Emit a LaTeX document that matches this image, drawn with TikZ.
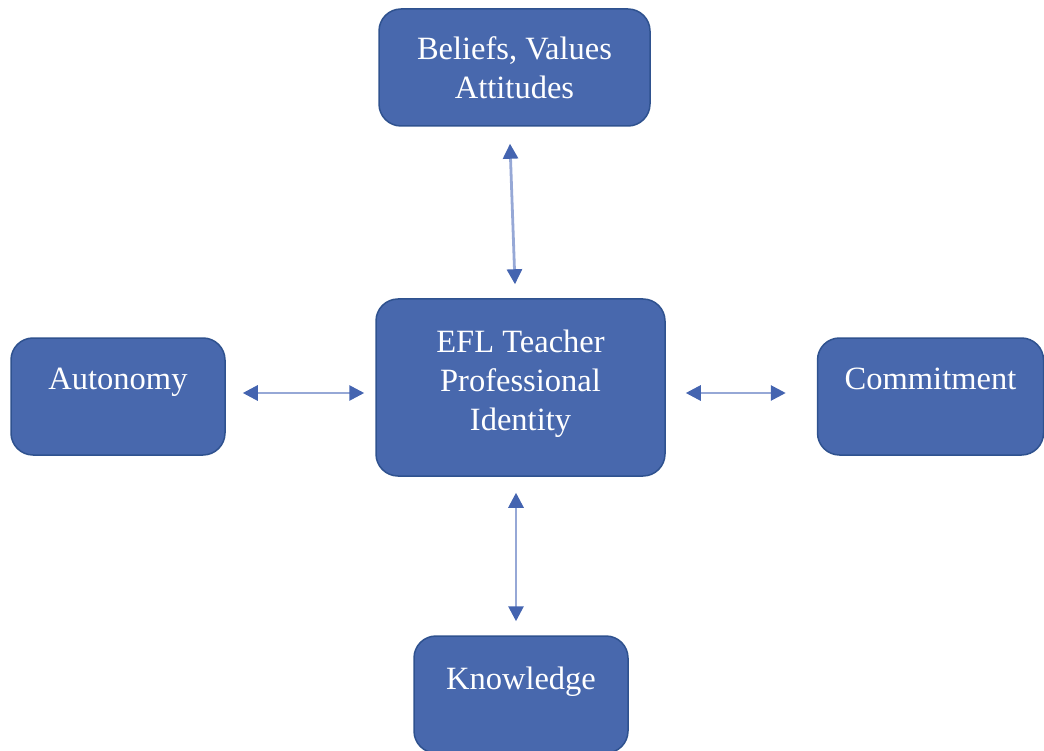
\documentclass[tikz,border=0pt]{standalone}
\usepackage{fontspec}
\setmainfont{Liberation Serif}
\usetikzlibrary{arrows.meta}
\definecolor{boxFill}{RGB}{72,104,173}
\definecolor{boxLine}{RGB}{47,82,143}
\definecolor{arrowLine}{RGB}{150,168,214}
\definecolor{arrowTip}{RGB}{68,100,176}
\begin{document}
\begin{tikzpicture}[x=1pt, y=-1pt,
    boxStyle/.style={rectangle, rounded corners=22pt, draw=boxLine, line width=1.5pt, fill=boxFill,
        text=white, align=center, font=\fontsize{32.5}{39}\selectfont, inner sep=0pt},
    linkStyle/.style={arrowLine, line width=2.8pt,
        {Triangle[length=15pt, width=15pt, color=arrowTip]}-{Triangle[length=15pt, width=15pt, color=arrowTip]}}]
    \useasboundingbox (0,0) rectangle (1044,751);
    \node[boxStyle, minimum width=271pt, minimum height=117pt](bel) at (514.5, 67.5) {Beliefs, Values\\Attitudes};
    \node[boxStyle, minimum width=289pt, minimum height=177pt](efl) at (520.5, 387.5) {EFL Teacher\\Professional\\Identity\\[-25pt]~};
    \node[boxStyle, minimum width=214pt, minimum height=117pt](aut) at (118, 396.5) {Autonomy\\[-4pt]~};
    \node[boxStyle, minimum width=226pt, minimum height=117pt](com) at (930.5, 396.5) {Commitment\\[-4pt]~};
    \node[boxStyle, minimum width=214pt, minimum height=117pt](kno) at (521, 694.5) {Knowledge\\[-6pt]~};

    \draw[linkStyle] ([shift={(-4.5,17)}]bel.south) -- ([shift={(-5.5,-14)}]efl.north);
    \draw[linkStyle] ([shift={(17,-3.5)}]aut.east) -- ([shift={(-11,5.5)}]efl.west);
    \draw[linkStyle] ([shift={(20,5.5)}]efl.east) -- ([shift={(-31,-3.5)}]com.west);
    \draw[linkStyle] ([shift={(-4.5,16)}]efl.south) -- ([shift={(-5,-14)}]kno.north);
\end{tikzpicture}
\end{document}
